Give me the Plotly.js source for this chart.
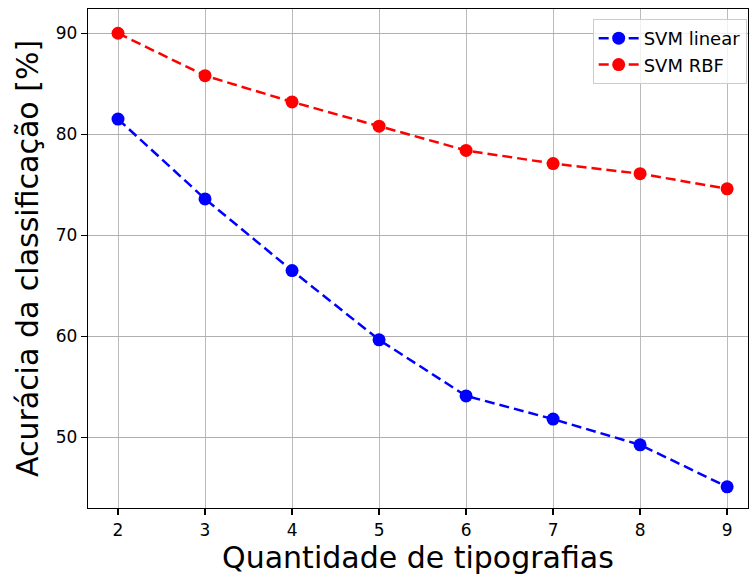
<!DOCTYPE html>
<html>
<head>
<meta charset="utf-8">
<script src="https://cdn.plot.ly/plotly-3.0.1.min.js"></script>
<style>html,body{margin:0;padding:0;background:#fff}#chart{width:749px;height:577px}</style>
</head>
<body>
<div id="chart"></div>
<script>
const quantidade = [2, 3, 4, 5, 6, 7, 8, 9];
const svmLinear = [81.5, 73.6, 66.5, 59.65, 54.1, 51.8, 49.25, 45.1];
const svmRBF = [90.0, 85.8, 83.2, 80.8, 78.4, 77.1, 76.1, 74.6];
const yTicks = [50, 60, 70, 80, 90];

const font = "DejaVu Sans";
const traces = [
  {x: quantidade, y: svmLinear, name: "SVM linear", mode: "lines+markers", type: "scatter",
   line: {color: "#0000ff", width: 2.5, dash: "10px,5px"}, marker: {color: "#0000ff", size: 13}},
  {x: quantidade, y: svmRBF, name: "SVM RBF", mode: "lines+markers", type: "scatter",
   line: {color: "#ff0000", width: 2.5, dash: "10px,5px"}, marker: {color: "#ff0000", size: 13}}
];
const axisCommon = {
  showline: true, linecolor: "#000", linewidth: 1.3, mirror: true,
  ticks: "outside", ticklen: 6, tickwidth: 1.3, tickcolor: "#000",
  showgrid: true, gridcolor: "#b0b0b0", gridwidth: 1.2, zeroline: false,
  tickfont: {family: font, size: 17, color: "#000"}
};
const layout = {
  width: 749, height: 577,
  margin: {l: 88, r: 1, t: 9, b: 69},
  paper_bgcolor: "#fff", plot_bgcolor: "#fff",
  font: {family: font, color: "#000"},
  xaxis: Object.assign({}, axisCommon, {
    range: [1.655, 9.24], tickvals: quantidade, ticktext: quantidade.map(String),
    gridwidth: 1, gridcolor: "#bbbbbb",
    title: {text: "Quantidade de tipografias", font: {family: font, size: 30, color: "#000"}, standoff: 6}
  }),
  yaxis: Object.assign({}, axisCommon, {
    range: [43.0, 92.4], tickvals: yTicks, ticktext: yTicks.map(String),
    title: {text: "Acurácia da classificação [%]", font: {family: font, size: 30, color: "#000"}, standoff: 8}
  }),
  legend: {x: 0.998, y: 0.98, xanchor: "right", yanchor: "top", itemwidth: 40,
    bgcolor: "rgba(255,255,255,0.8)", bordercolor: "#cccccc", borderwidth: 1,
    font: {family: font, size: 18, color: "#000"}},
  showlegend: true
};
Plotly.newPlot("chart", traces, layout, {displayModeBar: false, staticPlot: true});
</script>
</body>
</html>
